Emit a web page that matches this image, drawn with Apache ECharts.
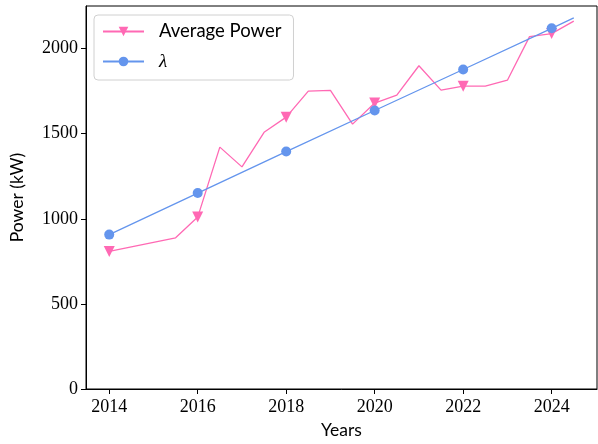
<!DOCTYPE html>
<html>
<head>
<meta charset="utf-8">
<script src="https://cdn.jsdelivr.net/npm/echarts@6/dist/echarts.min.js"></script>
<style>
  html, body { margin: 0; padding: 0; background: #fff; }
  #chart { width: 598px; height: 444px; }
</style>
</head>
<body>
<div id="chart"></div>
<script>
// half-year samples of the measured power
const years = [2014, 2014.5, 2015, 2015.5, 2016, 2016.5, 2017, 2017.5, 2018, 2018.5, 2019,
  2019.5, 2020, 2020.5, 2021, 2021.5, 2022, 2022.5, 2023, 2023.5, 2024, 2024.5]
const avgPower = [808, 835, 862, 888, 1010, 1421, 1305, 1508, 1597, 1750, 1754,
  1556, 1680, 1727, 1899, 1756, 1779, 1779, 1814, 2070, 2088, 2161]
// fitted trend
const lambdaYears = [2014, 2016, 2018, 2020, 2022, 2024, 2024.5]
const lambdaValues = [907, 1151, 1395, 1636, 1877, 2119, 2180]
const markerYears = [2014, 2016, 2018, 2020, 2022, 2024]
const xTicks = [2014, 2016, 2018, 2020, 2022, 2024]
const yTicks = [0, 500, 1000, 1500, 2000]

const pink = '#ff69b4'
const blue = '#6495ed'
const serif = '"Liberation Serif", serif'
const sans = 'Lato, "DejaVu Sans", sans-serif'

function withMarkers(xs, ys) {
  return xs.map((x, i) => {
    const item = {value: [x, ys[i]]}
    if (!markerYears.includes(x)) item.symbol = 'none'
    return item
  })
}

const chart = echarts.init(document.getElementById('chart'))
const option = {
  animation: false,
  grid: {
    left: 83, right: 1, top: 6, bottom: 51,
    show: true, borderColor: '#000', borderWidth: 1, backgroundColor: 'transparent'
  },
  legend: {
    orient: 'vertical',
    left: 94, top: 15,
    padding: [7, 12, 9, 8],
    itemWidth: 41, itemHeight: 12, itemGap: 11,
    backgroundColor: 'rgba(255,255,255,0.8)',
    borderColor: '#d0d0d0', borderWidth: 1, borderRadius: 4,
    textStyle: {
      fontFamily: sans, fontSize: 18.5, color: '#000', padding: [0, 0, 0, 10],
      rich: {it: {fontFamily: serif, fontStyle: 'italic', fontSize: 19}}
    },
    formatter: name => name === 'λ' ? '{it|λ}' : name,
    data: ['Average Power', 'λ']
  },
  xAxis: {
    type: 'value',
    min: 2013.475, max: 2025.025,
    name: 'Years', nameLocation: 'middle', nameGap: 32,
    nameTextStyle: {fontFamily: sans, fontSize: 17.5, color: '#000'},
    axisLine: {lineStyle: {color: '#000'}},
    axisTick: {show: true, length: 5, lineStyle: {color: '#000'}, customValues: xTicks},
    axisLabel: {fontFamily: serif, fontSize: 18, color: '#000', margin: 9, customValues: xTicks,
      formatter: v => String(v)},
    splitLine: {show: false}
  },
  yAxis: {
    type: 'value',
    min: 0, max: 2250,
    name: 'Power (kW)', nameLocation: 'middle', nameGap: 60,
    nameTextStyle: {fontFamily: sans, fontSize: 17.5, color: '#000'},
    axisLine: {show: true, lineStyle: {color: '#000'}},
    axisTick: {show: true, length: 5, lineStyle: {color: '#000'}, customValues: yTicks},
    axisLabel: {fontFamily: serif, fontSize: 18, color: '#000', margin: 8, customValues: yTicks,
      formatter: v => String(v)},
    splitLine: {show: false}
  },
  series: [
    {
      name: 'Average Power',
      type: 'line',
      data: withMarkers(years, avgPower),
      symbol: 'triangle', symbolRotate: 180, symbolSize: 11,
      showAllSymbol: true,
      lineStyle: {color: pink, width: 1.3},
      itemStyle: {color: pink},
      z: 2
    },
    {
      name: 'λ',
      type: 'line',
      data: withMarkers(lambdaYears, lambdaValues),
      symbol: 'circle', symbolSize: 10,
      showAllSymbol: true,
      lineStyle: {color: blue, width: 1.3},
      itemStyle: {color: blue},
      z: 3
    }
  ]
}
chart.setOption(option)
window.addEventListener('resize', function () {
  chart.resize()
})
</script>
</body>
</html>
